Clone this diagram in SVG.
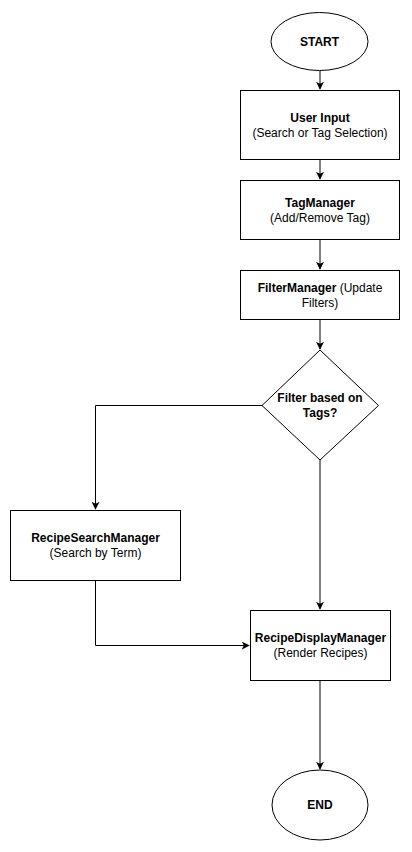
<svg xmlns="http://www.w3.org/2000/svg" width="412" height="852" viewBox="0 0 412 852">
<style>
.s{fill:#fff;stroke:#000;stroke-width:1}
.c{fill:none;stroke:#000;stroke-width:1}
text{font-family:"Liberation Sans",Arial,Helvetica,sans-serif;font-size:12px;fill:#000;text-anchor:middle}
.b{font-weight:bold}
</style>
<defs>
<marker id="ah" viewBox="0 0 10 10" refX="9" refY="5" markerWidth="8" markerHeight="8" markerUnits="userSpaceOnUse" orient="auto">
<path d="M0,0 L10,5 L0,10 L2.5,5 Z" fill="#000"/>
</marker>
</defs>
<rect width="412" height="852" fill="#fff"/>
<g id="connectors">
<path class="c" d="M320,70.5 L320,89" marker-end="url(#ah)"/>
<path class="c" d="M320,160 L320,179" marker-end="url(#ah)"/>
<path class="c" d="M320,240 L320,269" marker-end="url(#ah)"/>
<path class="c" d="M320,320 L320,349" marker-end="url(#ah)"/>
<path class="c" d="M262,405.5 L95.5,405.5 L95.5,509" marker-end="url(#ah)"/>
<path class="c" d="M320,460 L320,609" marker-end="url(#ah)"/>
<path class="c" d="M95.5,580 L95.5,645.5 L249,645.5" marker-end="url(#ah)"/>
<path class="c" d="M320,680 L320,769" marker-end="url(#ah)"/>
</g>
<g id="start">
<ellipse class="s" cx="319.5" cy="41.5" rx="48.5" ry="29"/>
<text class="b" x="319.5" y="45.5">START</text>
</g>
<g id="userInput">
<rect class="s" x="240.5" y="90.5" width="159" height="69"/>
<text class="b" x="320" y="122">User Input</text>
<text x="320" y="137">(Search or Tag Selection)</text>
</g>
<g id="tagManager">
<rect class="s" x="240.5" y="180.5" width="159" height="59"/>
<text class="b" x="320" y="207">TagManager</text>
<text x="320" y="222">(Add/Remove Tag)</text>
</g>
<g id="filterManager">
<rect class="s" x="240.5" y="270.5" width="159" height="49"/>
<text x="320" y="292"><tspan class="b">FilterManager</tspan> (Update</text>
<text x="320" y="307">Filters)</text>
</g>
<g id="decision">
<polygon class="s" points="320,350 378.5,405.5 320,460 262,405.5"/>
<text class="b" x="320" y="402">Filter based on</text>
<text class="b" x="320" y="417">Tags?</text>
</g>
<g id="recipeSearchManager">
<rect class="s" x="10.5" y="510.5" width="170" height="70"/>
<text class="b" x="95.5" y="542">RecipeSearchManager</text>
<text x="95.5" y="557">(Search by Term)</text>
</g>
<g id="recipeDisplayManager">
<rect class="s" x="250.5" y="610.5" width="140" height="70"/>
<text class="b" x="320.5" y="642">RecipeDisplayManager</text>
<text x="320.5" y="657">(Render Recipes)</text>
</g>
<g id="end">
<ellipse class="s" cx="320" cy="805" rx="48" ry="35"/>
<text class="b" x="320" y="809">END</text>
</g>
</svg>
